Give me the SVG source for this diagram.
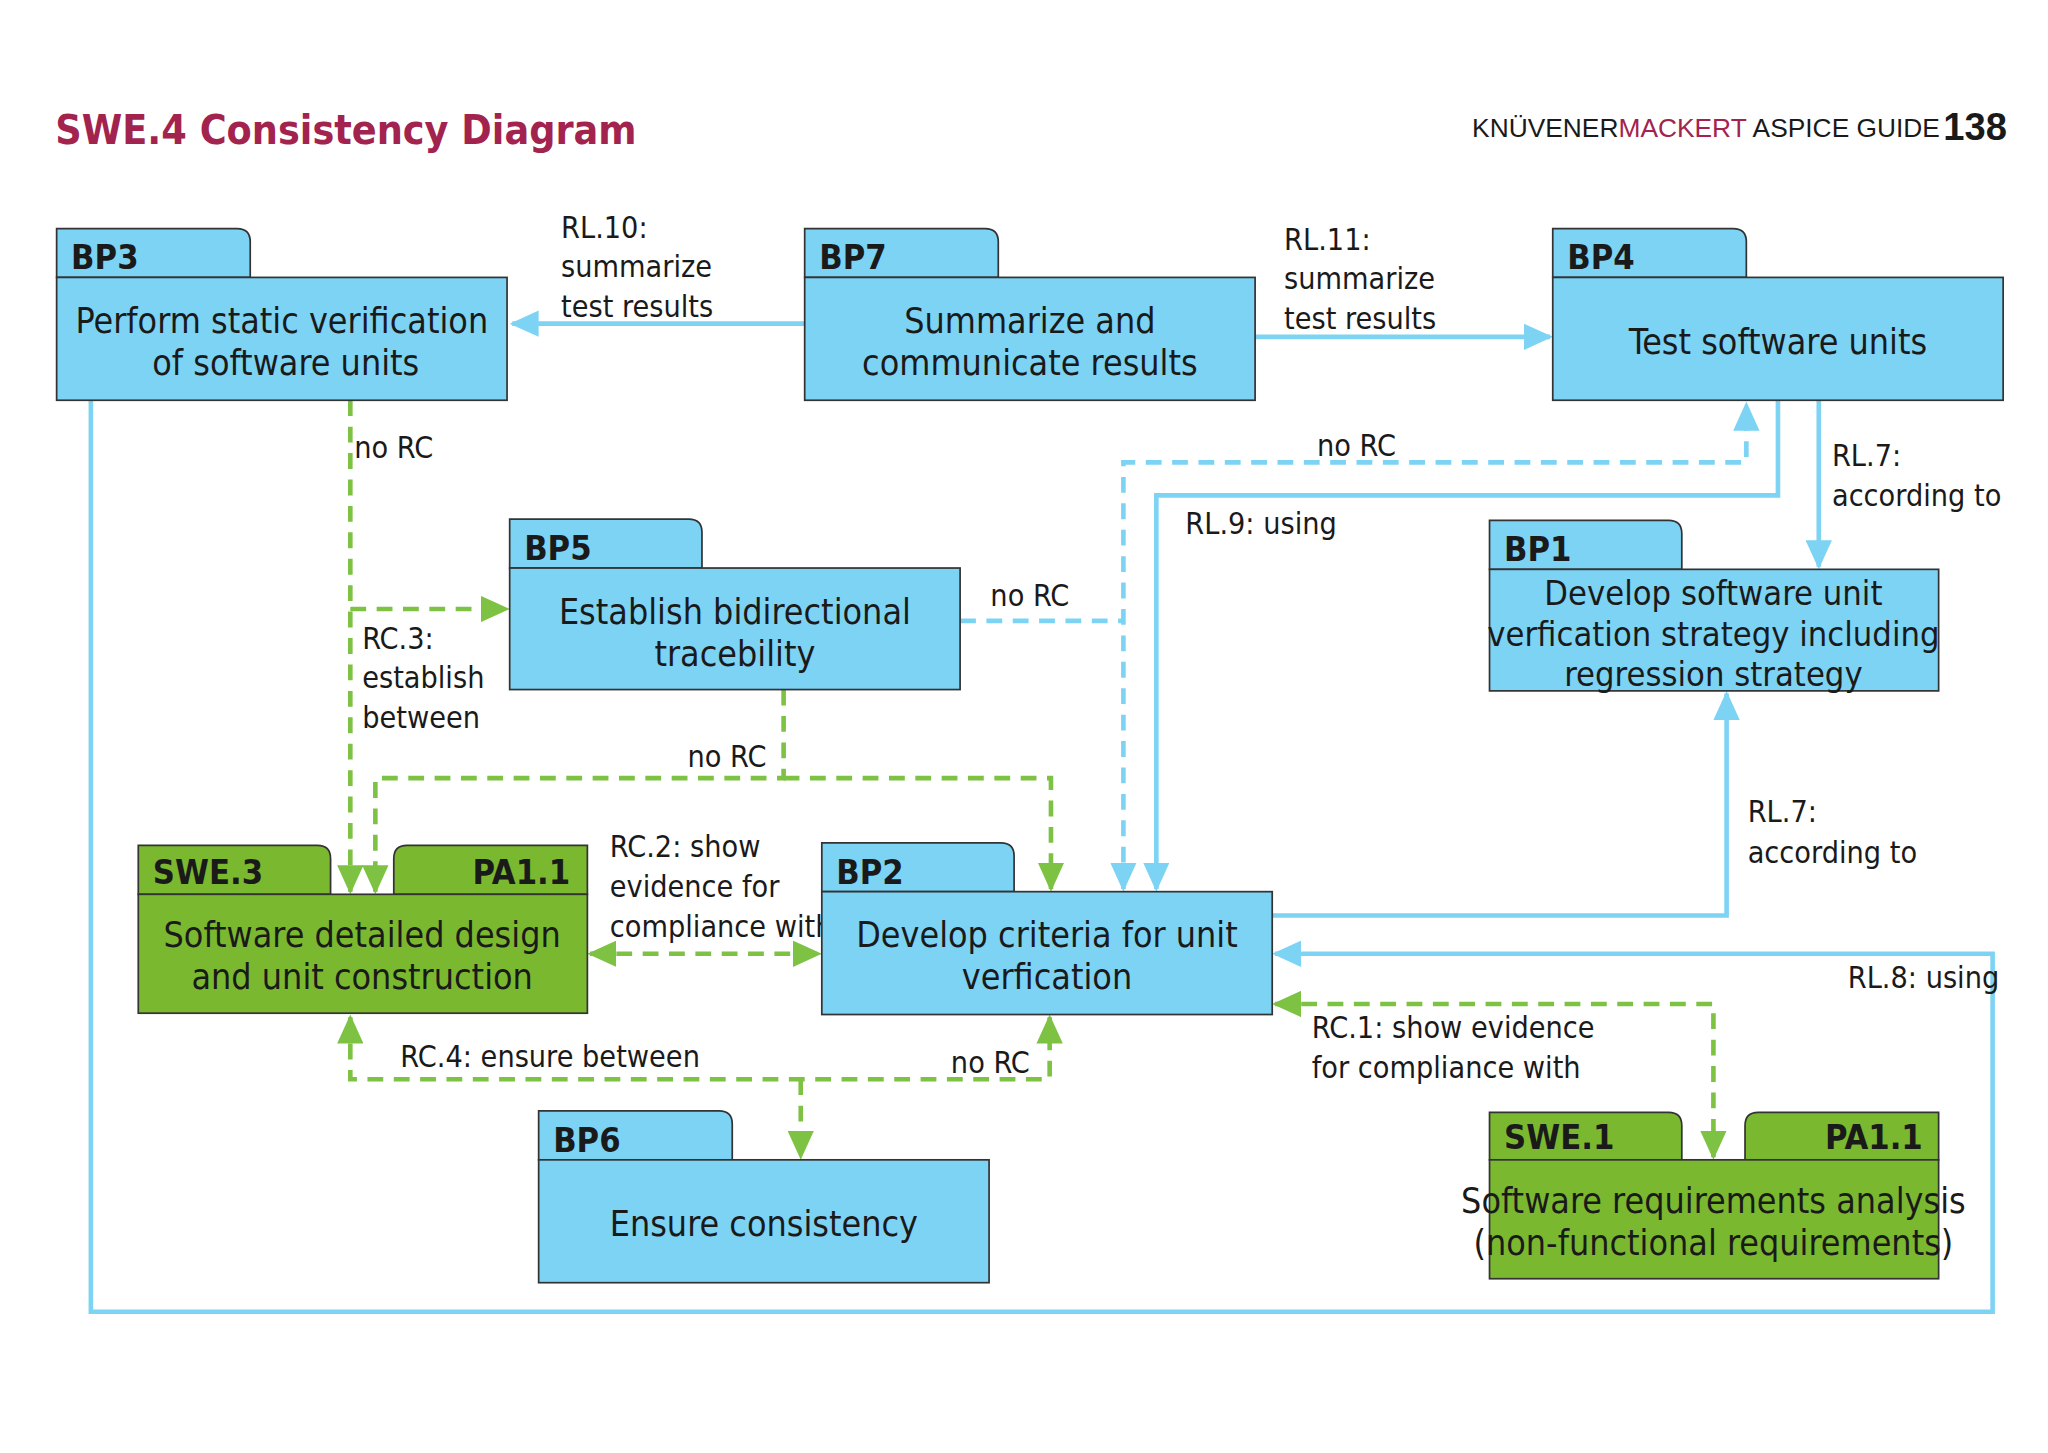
<svg xmlns="http://www.w3.org/2000/svg" width="2048" height="1453" viewBox="0 0 2048 1453">
<style>
text{font-family:"Liberation Sans Narrow","DejaVu Sans Condensed","Roboto",sans-serif;fill:#1a1a1a}
.box{fill:#7dd3f4;stroke:#333;stroke-width:1.3}
.gbox{fill:#7ab830;stroke:#333;stroke-width:1.3}
.tab{font-weight:bold;font-size:26px}
.lbl{font-size:27px;text-anchor:middle}
.cl{font-size:23px}
.b{fill:none;stroke:#7dd3f4;stroke-width:3.5}
.bd{fill:none;stroke:#7dd3f4;stroke-width:3.5;stroke-dasharray:12 8}
.gd{fill:none;stroke:#7dc242;stroke-width:3.5;stroke-dasharray:12 8}
</style>
<defs>
<marker id="ab" markerUnits="userSpaceOnUse" markerWidth="24" markerHeight="20" refX="20" refY="10" orient="auto-start-reverse"><path d="M0,0 L22,10 L0,20 Z" fill="#7dd3f4"/></marker>
<marker id="ag" markerUnits="userSpaceOnUse" markerWidth="24" markerHeight="20" refX="20" refY="10" orient="auto-start-reverse"><path d="M0,0 L22,10 L0,20 Z" fill="#7dc242"/></marker>
</defs>
<rect width="2048" height="1453" fill="#fff"/>
<g transform="scale(1.317,1.321)">
<text x="42" y="109" style="font-size:31px;font-weight:bold;fill:#a3234f">SWE.4 Consistency Diagram</text>
<text x="1473" y="104" style="font-size:20px;text-anchor:end;font-family:'Liberation Sans',sans-serif">KNÜVENER<tspan style="fill:#a3234f">MACKERT</tspan> ASPICE GUIDE</text>
<text x="1524" y="106" style="font-size:29px;font-weight:bold;text-anchor:end;font-family:'Liberation Sans',sans-serif">138</text>

<g id="connectors">
<path class="b" d="M611,245 L389,245" marker-end="url(#ab)"/>
<path class="b" d="M953,255 L1177,255" marker-end="url(#ab)"/>
<path class="b" d="M69,303 L69,993 L1513,993 L1513,722 L968,722" marker-end="url(#ab)"/>
<path class="b" d="M1350,303 L1350,375 L878,375 L878,673" marker-end="url(#ab)"/>
<path class="b" d="M1381,303 L1381,429" marker-end="url(#ab)"/>
<path class="b" d="M966,693 L1311,693 L1311,525" marker-end="url(#ab)"/>
<path class="bd" d="M853,673 L853,350 L1326,350 L1326,306" marker-start="url(#ab)" marker-end="url(#ab)"/>
<path class="bd" d="M729,470 L853,470"/>
<path class="gd" d="M266,303 L266,675" marker-end="url(#ag)"/>
<path class="gd" d="M266,461 L385,461" marker-end="url(#ag)"/>
<path class="gd" d="M595,522 L595,589 L285,589 L285,675" marker-end="url(#ag)"/>
<path class="gd" d="M595,589 L798,589 L798,673" marker-end="url(#ag)"/>
<path class="gd" d="M448,722 L622,722" marker-start="url(#ag)" marker-end="url(#ag)"/>
<path class="gd" d="M266,770 L266,817 L797,817 L797,770" marker-start="url(#ag)" marker-end="url(#ag)"/>
<path class="gd" d="M608,817 L608,876" marker-end="url(#ag)"/>
<path class="gd" d="M968,760 L1301,760 L1301,876" marker-start="url(#ag)" marker-end="url(#ag)"/>
<text class="cl" x="426" y="180">RL.10:</text>
<text class="cl" x="426" y="210">summarize</text>
<text class="cl" x="426" y="240">test results</text>
<text class="cl" x="975" y="189">RL.11:</text>
<text class="cl" x="975" y="219">summarize</text>
<text class="cl" x="975" y="249">test results</text>
<text class="cl" x="1000" y="345">no RC</text>
<text class="cl" x="900" y="404">RL.9: using</text>
<text class="cl" x="1391" y="353">RL.7:</text>
<text class="cl" x="1391" y="383">according to</text>
<text class="cl" x="269" y="347">no RC</text>
<text class="cl" x="752" y="459">no RC</text>
<text class="cl" x="275" y="491">RC.3:</text>
<text class="cl" x="275" y="521">establish</text>
<text class="cl" x="275" y="551">between</text>
<text class="cl" x="522" y="581">no RC</text>
<text class="cl" x="463" y="649">RC.2: show</text>
<text class="cl" x="463" y="679">evidence for</text>
<text class="cl" x="463" y="709">compliance with</text>
<text class="cl" x="1327" y="622">RL.7:</text>
<text class="cl" x="1327" y="653">according to</text>
<text class="cl" x="1403" y="748">RL.8: using</text>
<text class="cl" x="996" y="786">RC.1: show evidence</text>
<text class="cl" x="996" y="816">for compliance with</text>
<text class="cl" x="304" y="808">RC.4: ensure between</text>
<text class="cl" x="722" y="812">no RC</text>
</g>

<g id="BP3">
<path class="box" d="M43,210 L43,173 L180,173 Q190,173 190,183 L190,210 Z"/>
<rect class="box" x="43" y="210" width="342" height="93"/>
<text class="tab" x="54" y="204">BP3</text>
<text class="lbl" x="214" y="252">Perform static verification</text>
<text class="lbl" x="217" y="284">of software units</text>
</g>
<g id="BP7">
<path class="box" d="M611,210 L611,173 L748,173 Q758,173 758,183 L758,210 Z"/>
<rect class="box" x="611" y="210" width="342" height="93"/>
<text class="tab" x="622" y="204">BP7</text>
<text class="lbl" x="782" y="252">Summarize and</text>
<text class="lbl" x="782" y="284">communicate results</text>
</g>
<g id="BP4">
<path class="box" d="M1179,210 L1179,173 L1316,173 Q1326,173 1326,183 L1326,210 Z"/>
<rect class="box" x="1179" y="210" width="342" height="93"/>
<text class="tab" x="1190" y="204">BP4</text>
<text class="lbl" x="1350" y="268">Test software units</text>
</g>
<g id="BP5">
<path class="box" d="M387,430 L387,393 L523,393 Q533,393 533,403 L533,430 Z"/>
<rect class="box" x="387" y="430" width="342" height="92"/>
<text class="tab" x="398" y="424">BP5</text>
<text class="lbl" x="558" y="472">Establish bidirectional</text>
<text class="lbl" x="558" y="504">tracebility</text>
</g>
<g id="BP1">
<path class="box" d="M1131,431 L1131,394 L1267,394 Q1277,394 1277,404 L1277,431 Z"/>
<rect class="box" x="1131" y="431" width="341" height="92"/>
<text class="tab" x="1142" y="425">BP1</text>
<text class="lbl" x="1301" y="458" style="font-size:26px">Develop software unit</text>
<text class="lbl" x="1301" y="489" style="font-size:26px">verfication strategy including</text>
<text class="lbl" x="1301" y="519" style="font-size:26px">regression strategy</text>
</g>
<g id="SWE3">
<path class="gbox" d="M105,677 L105,640 L241,640 Q251,640 251,650 L251,677 Z"/>
<path class="gbox" d="M299,677 L299,650 Q299,640 309,640 L446,640 L446,677 Z"/>
<rect class="gbox" x="105" y="677" width="341" height="90"/>
<text class="tab" x="116" y="669">SWE.3</text>
<text class="tab" x="433" y="669" style="text-anchor:end">PA1.1</text>
<text class="lbl" x="275" y="717">Software detailed design</text>
<text class="lbl" x="275" y="749">and unit construction</text>
</g>
<g id="BP2">
<path class="box" d="M624,675 L624,638 L760,638 Q770,638 770,648 L770,675 Z"/>
<rect class="box" x="624" y="675" width="342" height="93"/>
<text class="tab" x="635" y="669">BP2</text>
<text class="lbl" x="795" y="717">Develop criteria for unit</text>
<text class="lbl" x="795" y="749">verfication</text>
</g>
<g id="BP6">
<path class="box" d="M409,878 L409,841 L546,841 Q556,841 556,851 L556,878 Z"/>
<rect class="box" x="409" y="878" width="342" height="93"/>
<text class="tab" x="420" y="872">BP6</text>
<text class="lbl" x="580" y="936">Ensure consistency</text>
</g>
<g id="SWE1">
<path class="gbox" d="M1131,878 L1131,842 L1267,842 Q1277,842 1277,852 L1277,878 Z"/>
<path class="gbox" d="M1325,878 L1325,852 Q1325,842 1335,842 L1472,842 L1472,878 Z"/>
<rect class="gbox" x="1131" y="878" width="341" height="90"/>
<text class="tab" x="1142" y="870">SWE.1</text>
<text class="tab" x="1460" y="870" style="text-anchor:end">PA1.1</text>
<text class="lbl" x="1301" y="918">Software requirements analysis</text>
<text class="lbl" x="1301" y="950">(non-functional requirements)</text>
</g>
</g>
</svg>
